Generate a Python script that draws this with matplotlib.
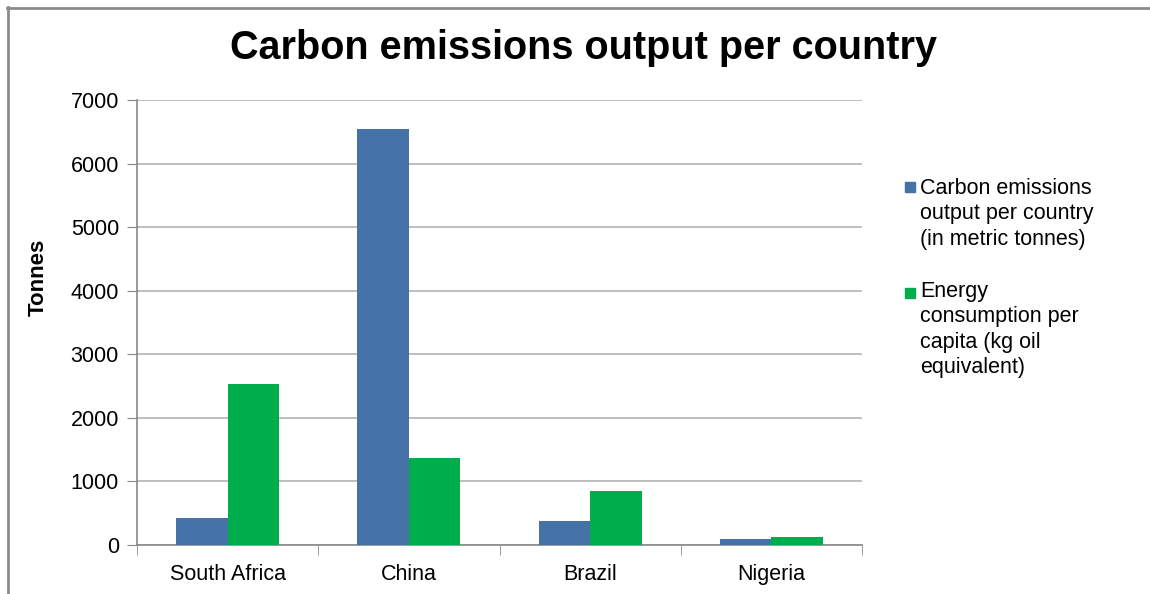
import matplotlib.pyplot as plt
import matplotlib.patches as mpatches
import matplotlib.lines as mlines
import numpy as np

plt.rcParams['font.family'] = ['Liberation Sans', 'DejaVu Sans']

# Datos
paises = ["South Africa", "China", "Brazil", "Nigeria"]
emisiones = [430, 6540, 382, 94]
energia = [2537, 1373, 845, 131]
etiquetas = ["Carbon emissions\noutput per country\n(in metric tonnes)",
             "Energy\nconsumption per\ncapita (kg oil\nequivalent)"]
y_ticks = [0, 1000, 2000, 3000, 4000, 5000, 6000, 7000]

AZUL = "#4573a7"
VERDE = "#00ad4d"
W, H = 1150, 594
FS = 15.5

fig = plt.figure(figsize=(11.5, 5.94), dpi=100)
ax = fig.add_axes([137 / W, 1 - 545 / H, (862 - 137) / W, (545 - 100) / H])

x = np.arange(len(paises))
w = 0.284
ax.bar(x - w / 2, emisiones, width=w, color=AZUL, zorder=3)
ax.bar(x + w / 2, energia, width=w, color=VERDE, zorder=3)

ax.set_xlim(-0.5, len(paises) - 0.5)
ax.set_ylim(0, 7000)
ax.set_yticks(y_ticks)
ax.set_yticklabels([str(v) for v in y_ticks], fontsize=FS)
ax.set_xticks(x)
ax.set_xticklabels(paises, fontsize=FS)
ax.tick_params(axis="x", length=0, pad=14)
ax.tick_params(axis="y", length=7, color="#898989", pad=6)

# separadores de categoria en el eje x
ax.set_xticks(np.arange(len(paises) + 1) - 0.5, minor=True)
ax.tick_params(axis="x", which="minor", length=7, color="#898989")

ax.grid(axis="y", color="#b3b3b3", linewidth=1.2, zorder=0)
for s in ["top", "right"]:
    ax.spines[s].set_visible(False)
for s in ["left", "bottom"]:
    ax.spines[s].set_color("#898989")
    ax.spines[s].set_linewidth(1.2)

fig.text(38 / W, 1 - 277 / H, "Tonnes", rotation=90, ha="center", va="center",
         fontsize=16, fontweight="bold")

fig.text(583 / W, 1 - 48 / H, "Carbon emissions output per country",
         ha="center", va="center", fontsize=28.5, fontweight="bold")

# leyenda manual
colores = [AZUL, VERDE]
top_txt = [178, 281]
top_cuad = [182, 288]
for col, lab, yt, yc in zip(colores, etiquetas, top_txt, top_cuad):
    fig.patches.append(mpatches.Rectangle((905 / W, 1 - (yc + 10) / H), 10 / W, 10 / H,
                                          transform=fig.transFigure, color=col))
    fig.text(920 / W, 1 - yt / H, lab, ha="left", va="top", fontsize=FS,
             linespacing=1.27)

# marco exterior (arriba e izquierda)
fig.lines.append(mlines.Line2D([7 / W, 1], [1 - 7.5 / H] * 2, transform=fig.transFigure,
                               color="#8c8c8c", linewidth=2))
fig.lines.append(mlines.Line2D([7.5 / W] * 2, [0, 1 - 7 / H], transform=fig.transFigure,
                               color="#8c8c8c", linewidth=2))

plt.savefig("out.png", dpi=100, facecolor="white")
